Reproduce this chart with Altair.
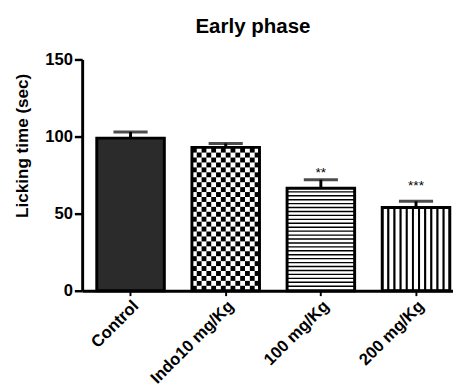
import altair as alt
import pandas as pd

categories = ["Control", "Indo10 mg/Kg", "100 mg/Kg", "200 mg/Kg"]
means = [99, 93, 66.5, 54]
sems = [4, 2.5, 5.5, 4]
stars = ["", "", "**", "***"]
star_y = [None, None, 76, 68]
fills = ["#2b2b2b", "white", "white", "white"]

FONT = "Liberation Sans"

df = pd.DataFrame({"group": categories, "mean": means, "sem": sems,
                   "fill": fills, "star": stars, "star_y": star_y})
df["top"] = df["mean"] + df["sem"]

# checkerboard pattern cells for the Indo bar
checker = []
n_cols = 14
cell_h = 3.2
y0, r = 0.0, 0
while y0 < means[1] - 0.01:
    y1 = min(y0 + cell_h, means[1])
    for c in range(n_cols):
        if (r + c) % 2 == 0:
            checker.append({"group": categories[1], "col": c, "y0": y0, "y1": y1})
    y0 += cell_h
    r += 1
checker = pd.DataFrame(checker)

# horizontal stripes for the 100 mg/Kg bar
hs = []
v = 2.5
while v + 0.9 < means[2]:
    hs.append({"group": categories[2], "y0": v, "y1": v + 0.9})
    v += 2.55
hs = pd.DataFrame(hs)

# vertical stripes for the 200 mg/Kg bar
vs = pd.DataFrame({"group": [categories[3]] * 11, "col": list(range(11)),
                   "mean": [means[3]] * 11})

xscale = alt.Scale(paddingInner=0.29, paddingOuter=0.0936, align=0.82)
xaxis = alt.Axis(title=None, labelAngle=-45, labelFontSize=17, labelFontWeight="bold",
                 labelFont=FONT, labelColor="black", domainWidth=3, domainColor="black",
                 tickWidth=2, tickSize=5, tickColor="black", labelPadding=2)
X = alt.X("group:N", sort=categories, scale=xscale, axis=xaxis)
yscale = alt.Scale(domain=[0, 150], nice=False)
yaxis = alt.Axis(values=[0, 50, 100, 150], title="Licking time (sec)", grid=False,
                 domainWidth=3, domainColor="black", tickWidth=2.5, tickSize=8,
                 tickColor="black", labelFontSize=17, labelFontWeight="bold",
                 labelFont=FONT, labelColor="black", labelPadding=2,
                 titleFontSize=17.5, titleFontWeight="bold", titleFont=FONT,
                 titleColor="black", titleX=-52, titleY=88)


def Y(field):
    return alt.Y(field, scale=yscale, axis=yaxis)


base_bar = alt.Chart(df).mark_bar().encode(
    x=X, y=Y("mean:Q"), fill=alt.Fill("fill:N", scale=None),
)

checker_l = alt.Chart(checker).mark_bar(color="black").encode(
    x=X,
    xOffset=alt.XOffset("col:O", scale=alt.Scale(paddingInner=0, paddingOuter=0)),
    y=Y("y0:Q"), y2="y1:Q",
)

hs_l = alt.Chart(hs).mark_bar(color="black").encode(
    x=X, y=Y("y0:Q"), y2="y1:Q",
)

vs_l = alt.Chart(vs).mark_bar(fill="white", stroke="black", strokeWidth=2).encode(
    x=X,
    xOffset=alt.XOffset("col:O", scale=alt.Scale(paddingInner=0, paddingOuter=0)),
    y=Y("mean:Q"),
)

outline = alt.Chart(df).mark_bar(filled=False, stroke="black", strokeWidth=3).encode(
    x=X, y=Y("mean:Q"),
)

err = alt.Chart(df).mark_rule(color="black", strokeWidth=3).encode(
    x=X, y=Y("mean:Q"), y2="top:Q",
)

cap = alt.Chart(df).mark_tick(color="black", size=35, thickness=3).encode(
    x=X, y=Y("top:Q"),
)

star_l = alt.Chart(df).mark_text(fontSize=14, font=FONT, color="black").encode(
    x=X, y=Y("star_y:Q"), text="star:N",
)

chart = alt.layer(base_bar, checker_l, hs_l, vs_l, outline, err, cap, star_l).resolve_scale(
    xOffset="independent"
).properties(
    width=380, height=237,
    padding={"top": 4, "left": 5, "right": 0, "bottom": 0},
    title=alt.TitleParams("Early phase", fontSize=21, fontWeight="bold", font=FONT,
                          color="black", anchor="middle", dx=-15, offset=14),
).configure_view(strokeWidth=0)

chart.save("out.html", embed_options={"renderer": "svg", "actions": False})
